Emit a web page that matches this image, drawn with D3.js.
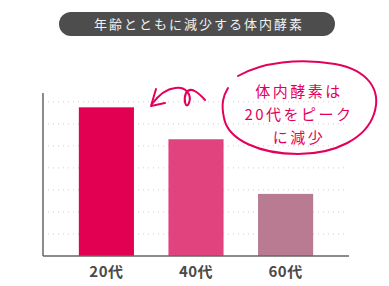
<!DOCTYPE html>
<html>
<head>
<meta charset="utf-8">
<script src="https://cdn.jsdelivr.net/npm/d3@7"></script>
<style>
  body { margin: 0; background: #fff; }
  svg { display: block; font-family: "Noto Sans CJK JP", "Noto Sans", sans-serif; }
</style>
</head>
<body>
<div class="chart"></div>
<script>
const title = "年齢とともに減少する体内酵素";
const ages = ["20代", "40代", "60代"];
const enzyme = [6.75, 5.3, 2.82];
const barColors = ["#E20052", "#E0437E", "#B87B92"];
const gridTicks = [1, 2, 3, 4, 5, 6, 7];
const note = ["体内酵素は", "20代をピーク", "に減少"];

const width = 389, height = 286;
const margin = { top: 93, right: 40, bottom: 30, left: 43 };

const svg = d3.select(".chart").append("svg")
  .attr("width", width)
  .attr("height", height);

// title pill
svg.append("rect")
  .attr("x", 59).attr("y", 12)
  .attr("width", 276).attr("height", 24)
  .attr("rx", 12)
  .attr("fill", "#4d4d4d");
svg.append("text")
  .attr("x", 199).attr("y", 28.5)
  .attr("text-anchor", "middle")
  .attr("fill", "#f2f2f2")
  .attr("font-size", 13)
  .attr("letter-spacing", 2)
  .text(title);

const x = d3.scaleBand()
  .domain(ages)
  .range([margin.left, width - margin.right])
  .paddingInner(0.385)
  .paddingOuter(0.4);

const y = d3.scaleLinear()
  .domain([0, 7.4])
  .range([height - margin.bottom, margin.top]);

// dotted grid
svg.append("g")
  .selectAll("line")
  .data(gridTicks)
  .join("line")
  .attr("x1", margin.left + 5)
  .attr("x2", width - margin.right - 3)
  .attr("y1", d => y(d))
  .attr("y2", d => y(d))
  .attr("stroke", "#cfcfcf")
  .attr("stroke-width", 1)
  .attr("stroke-dasharray", "1,4");

// bars
svg.append("g")
  .selectAll("rect")
  .data(enzyme)
  .join("rect")
  .attr("x", (d, i) => x(ages[i]))
  .attr("y", d => y(d))
  .attr("width", x.bandwidth())
  .attr("height", d => y(0) - y(d))
  .attr("fill", (d, i) => barColors[i]);

// axes
svg.append("line")
  .attr("x1", margin.left).attr("x2", margin.left)
  .attr("y1", margin.top).attr("y2", y(0))
  .attr("stroke", "#666").attr("stroke-width", 1.5);
svg.append("line")
  .attr("x1", margin.left).attr("x2", width - margin.right)
  .attr("y1", y(0)).attr("y2", y(0))
  .attr("stroke", "#666").attr("stroke-width", 1.5);

svg.append("g")
  .selectAll("text")
  .data(ages)
  .join("text")
  .attr("x", d => x(d) + x.bandwidth() / 2)
  .attr("y", y(0) + 21)
  .attr("text-anchor", "middle")
  .attr("fill", "#4a4a4a")
  .attr("font-size", 15)
  .attr("font-weight", "bold")
  .attr("letter-spacing", 0.5)
  .text(d => d);

// hand-drawn annotation
const pink = "#E4005A";
svg.append("path")
  .attr("d", "M205,100 C198,92 190,86 186,93 C183,100 186,110 189,103 C192,95 186,86 175,88 C166,89 158,96 152,104")
  .attr("fill", "none").attr("stroke", pink).attr("stroke-width", 2).attr("stroke-linecap", "round");
svg.append("path")
  .attr("d", "M156,89 L151,106 L165,103")
  .attr("fill", "none").attr("stroke", pink).attr("stroke-width", 2)
  .attr("stroke-linecap", "round").attr("stroke-linejoin", "round");

svg.append("path")
  .attr("d", "M238,76 C262,62 300,58 335,64 C368,70 382,90 374,114 C366,138 336,154 298,154 C260,154 228,140 224,118 C221,104 223,96 228,88")
  .attr("fill", "none").attr("stroke", pink).attr("stroke-width", 2).attr("stroke-linecap", "round");

svg.append("g")
  .selectAll("text")
  .data(note)
  .join("text")
  .attr("x", 299)
  .attr("y", (d, i) => 97 + i * 23)
  .attr("text-anchor", "middle")
  .attr("fill", pink)
  .attr("font-size", 15)
  .attr("letter-spacing", 2.5)
  .text(d => d);
</script>
</body>
</html>
